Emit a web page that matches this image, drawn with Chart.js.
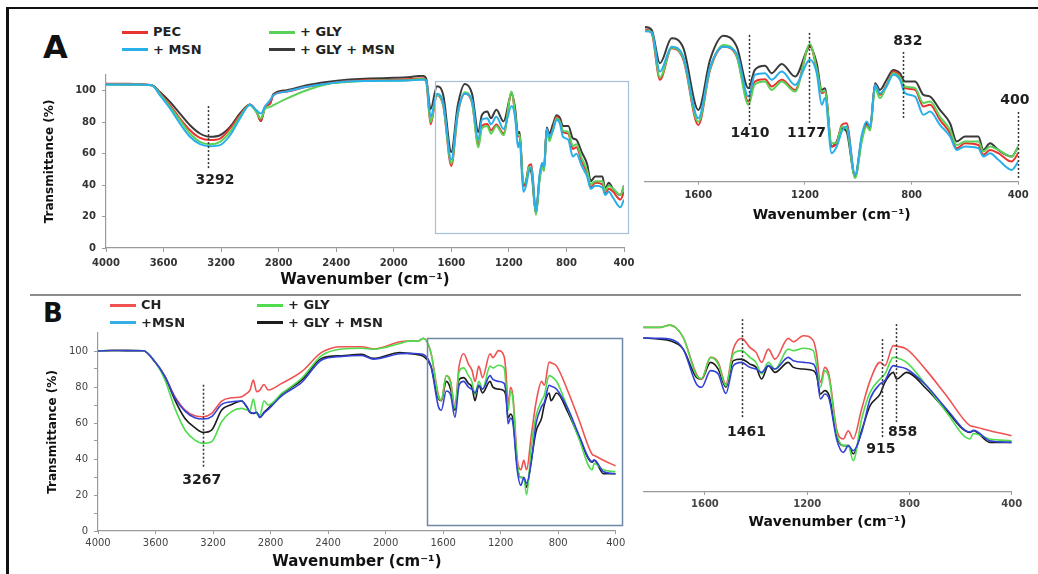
<!DOCTYPE html>
<html>
<head>
<meta charset="utf-8">
<script src="https://cdn.jsdelivr.net/npm/chart.js@4.4.1/dist/chart.umd.min.js"></script>
<style>
body { margin: 0; background: #fff; width: 1038px; height: 574px; position: relative; overflow: hidden; font-family: 'DejaVu Sans', sans-serif; }
canvas { position: absolute; }
.rule { position: absolute; }
.letter { position: absolute; font-weight: bold; color: #111; line-height: 1; }
.sw { position: absolute; height: 3px; }
.lt { position: absolute; font-size: 13px; font-weight: bold; color: #222; line-height: 16px; white-space: nowrap; }
</style>
</head>
<body>
<div class="rule" style="left:6px;top:7px;width:1032px;height:2px;background:#111"></div>
<div class="rule" style="left:6px;top:7px;width:3px;height:567px;background:#111"></div>
<div class="rule" style="left:30px;top:294px;width:991px;height:2px;background:#8c8c8c"></div>
<div class="letter" style="left:43px;top:31px;font-size:32px">A</div>
<div class="letter" style="left:43px;top:300px;font-size:26px">B</div>

<canvas id="aMain" width="600" height="240" style="left:40px;top:60px"></canvas>
<canvas id="aZoom" width="405" height="225" style="left:630px;top:5px"></canvas>
<canvas id="bMain" width="600" height="259" style="left:40px;top:315px"></canvas>
<canvas id="bZoom" width="400" height="235" style="left:630px;top:305px"></canvas>

<script>
// ---- panel A : pectin films ----
const aWave = [4000, 3900, 3800, 3682, 3625, 3555, 3486, 3416, 3347, 3277,
    3208, 3138, 3069, 3000, 2953, 2923, 2895, 2860, 2837, 2744,
    2605, 2466, 2327, 2165, 2000, 1900, 1800,
    1775, 1744, 1700, 1656, 1600, 1556, 1506, 1456, 1412, 1388,
    1350, 1325, 1287, 1237, 1181, 1156, 1137, 1125, 1100, 1081,
    1062, 1044, 1012, 987, 969, 956, 937, 919, 894, 869,
    844, 825, 787, 756, 731, 694, 656, 631, 600, 550,
    531, 506, 475, 425, 400];

const aPec = [104.5, 104.5, 104.3, 103.5, 98.5, 90.8, 82.3, 74.9, 70, 68.6,
    69.6, 76, 84.4, 91.2, 86.5, 80.8, 89.7, 91.8, 97.1, 99.5,
    102.5, 104.5, 106, 106.7, 107, 107.3, 108,
    105.9, 78.6, 97.1, 90.3, 52.2, 84.4, 98, 92.2, 65.9, 77.6,
    78.9, 74.7, 78.6, 72.7, 99, 84.4, 70.8, 71.7, 39.6, 41.5,
    52.2, 53.2, 22, 44.5, 52.2, 49.3, 75.6, 69.8, 75.6, 83.4,
    80.5, 73.7, 72.7, 63, 64, 55.2, 47.4, 38.6, 41.5, 40.5,
    34.7, 37.6, 35.7, 30.8, 35.7];

const aGly = [104, 104, 104, 103.5, 98, 89.7, 81.3, 72.8, 67.5, 66,
    67.5, 73.8, 83.4, 91, 86, 82.3, 88.5, 89.7, 90.8, 95,
    100.3, 104.1, 105.5, 106.3, 106.5, 106.7, 107.5,
    106.5, 80, 97.5, 91, 54, 85, 99, 92.5, 64, 76,
    77.6, 72.7, 77.6, 71.7, 99.5, 85, 71.7, 72, 41.5, 42,
    51.3, 50.3, 21.1, 42.5, 51.3, 49, 73.7, 67.9, 75, 82.5,
    80, 74.7, 73.7, 65, 65.9, 57.1, 49.3, 40.5, 42.5, 42.5,
    36.7, 39.6, 37.6, 33.7, 39.6];

const aMsn = [104, 104, 104, 103.5, 97.1, 88.7, 79.1, 70.7, 66, 64.7,
    65.4, 71.7, 82.3, 91, 87.5, 85.5, 90, 94, 97.1, 99.5,
    102.5, 104.5, 105.8, 106.2, 106.4, 106.5, 107,
    106.5, 83.4, 98, 92, 56.1, 86, 98, 94, 68.8, 81.5,
    82.5, 78.6, 83.4, 75.6, 90.3, 82.5, 64, 67.9, 35.7, 39.6,
    48.3, 51.3, 23, 46.4, 54.2, 51.3, 75.6, 70.8, 74.7, 81.5,
    78.6, 70.8, 68.8, 58.1, 60, 52.2, 45.4, 37.6, 39.6, 38.6,
    33.7, 35.7, 31.8, 25.9, 30.8];

const aGlyMsn = [104.1, 104, 104, 103.5, 99.2, 92.9, 85.5, 78.1, 72.8, 70.7,
    71.7, 77, 85.5, 91.2, 86.5, 80.8, 89.7, 91.8, 97.8, 100.3,
    103.5, 105.6, 107, 107.7, 108.2, 108.6, 109.5,
    107.8, 88.3, 102.9, 97.1, 61, 90.3, 104.3, 98, 73.7, 84.4,
    86.8, 82.5, 87.9, 80.5, 98, 88.3, 72.7, 73.7, 39.6, 42.5,
    50.3, 48.3, 22, 44.5, 53.2, 50.3, 76.6, 72.7, 78.6, 84.4,
    82.5, 77.6, 77.6, 69.8, 68.8, 61, 53.2, 42.5, 45.4, 45.4,
    37.6, 41.5, 37.6, 33.7, 39.6];

// ---- panel B : chitosan films ----
const bWave = [4000, 3900, 3800, 3685, 3604, 3534, 3465, 3395, 3326, 3268,
    3210, 3140, 3071, 3001, 2966, 2943, 2920, 2897, 2874, 2846,
    2816, 2723, 2584, 2445, 2306, 2167, 2085, 1900, 1841,
    1776, 1737, 1685, 1633, 1613, 1578, 1548, 1518, 1489, 1457,
    1424, 1400, 1378, 1352, 1326, 1274, 1254, 1215, 1176, 1163,
    1148, 1131, 1114, 1085, 1059, 1039, 1020, 987, 954, 915,
    896, 863, 850, 811, 733, 655, 563, 550, 485, 400];

const bCh = [100, 100.3, 100.2, 100.1, 94, 85.7, 74.6, 67.2, 64, 63.5,
    65.3, 72.2, 74, 74.6, 76.4, 78.3, 83.8, 77.4, 78.3, 81.4,
    78.3, 82, 88.5, 99.2, 102.4, 102.4, 101.1, 105.1, 105.5,
    105.5, 107, 99.1, 75.6, 72.4, 86.3, 83.1, 69.2, 91.6, 98.5,
    92.7, 89.5, 83.1, 91.6, 85.2, 98.5, 96.3, 100.2, 97, 88.4,
    70.3, 79.9, 74.5, 40.4, 34, 39.3, 34, 53.2, 71.4, 83.1,
    81, 93.8, 93.5, 91.6, 77.8, 61.7, 42.5, 42, 39.3, 36.1];

const bGly = [100, 100.3, 100.2, 100.1, 94, 83.8, 68.1, 56.1, 50.5, 48.7,
    49.6, 60.7, 66.3, 68.1, 67.2, 67, 73.3, 65.3, 64.4, 72.2,
    70, 76.4, 84.8, 97.4, 101.1, 101.5, 101, 104.2, 105.5,
    105.5, 107, 99.1, 74.6, 72.8, 86.3, 82, 68.1, 88.4, 90.6,
    86.3, 83.1, 75.6, 83.1, 78.8, 91.6, 90.6, 92.1, 90.6, 81,
    67.1, 77.8, 72.4, 38.2, 29.7, 29.7, 20.1, 46.8, 63.9, 72.4,
    75.6, 86.3, 86, 83.1, 68.1, 51.1, 34, 37.5, 34, 32.9];

const bMsn = [100, 100.3, 100.2, 100.1, 94, 85.7, 74, 66.6, 62.9, 62.2,
    63.5, 70.3, 71.8, 72.2, 69, 66, 65.5, 65.9, 63.1, 65.5,
    67.5, 75.1, 82.5, 95, 97, 97.5, 95.5, 98.5, 98.7,
    98.5, 98.1, 91.6, 69.2, 67.1, 77.8, 75.6, 63.2, 81, 83.1,
    79.9, 78.8, 76.7, 81, 78.8, 86.3, 84.2, 83.1, 82, 76.7,
    59.6, 62.8, 59.6, 34, 25.4, 29.7, 26.5, 38.2, 59.6, 69.2,
    71.4, 81, 80.5, 78.8, 68.1, 53.2, 38.5, 39.5, 32.9, 31.8];

const bGlyMsn = [100, 100.3, 100.2, 100.1, 94, 85.7, 72.7, 62.5, 57.4, 54.8,
    56.1, 67.2, 70.3, 72.2, 69, 65.9, 65.3, 65.9, 63.1, 65.9,
    68.1, 75.9, 83.8, 95.9, 97.4, 98.1, 95.9, 99.2, 98.7,
    98, 97, 91.6, 73.5, 72.4, 83.1, 78.8, 67.1, 84.2, 85.2,
    82, 79.9, 72.4, 81, 76.7, 83.1, 79.9, 78.8, 77.8, 74.6,
    62.8, 65, 61.7, 36.1, 29.7, 29.7, 24.4, 39.3, 55.3, 62.8,
    70.3, 76.7, 72.4, 76.7, 66, 52.1, 38.2, 39.3, 31.8, 31.8];

const aLabels = ['PEC', '+ GLY', '+ MSN', '+ GLY + MSN'];
const bLabels = ['CH', '+ GLY', '+MSN', '+ GLY + MSN'];

const fullTicks = [4000, 3600, 3200, 2800, 2400, 2000, 1600, 1200, 800, 400];
const zoomTicks = [1600, 1200, 800, 400];
const yTicksA = [0, 20, 40, 60, 80, 100];
const yTicksB = [0, 10, 20, 30, 40, 50, 60, 70, 80, 90, 100];

// marked peaks (wavenumber) for each panel
const aMainPeaks = [3292];
const aZoomPeaks = [1410, 1177, 832, 400];
const bMainPeaks = [3267];
const bZoomPeaks = [1461, 915, 858];

const colA = ['#e8332f', '#5bd257', '#29afe9', '#3a3a3a'];
const colB = ['#f05252', '#4fdc4f', '#3242d6', '#1c1c1c'];

Chart.defaults.font.family = "'DejaVu Sans', sans-serif";
Chart.defaults.animation = false;

function toPoints(wave, vals) {
    return wave.map((w, i) => ({ x: w, y: vals[i] }));
}

function datasets(wave, series, labels, colors, width) {
    // draw order: black last so it sits on top
    const order = [2, 1, 0, 3];
    return order.map(i => ({
        label: labels[i],
        data: toPoints(wave, series[i]),
        borderColor: colors[i],
        borderWidth: width,
        pointRadius: 0,
        cubicInterpolationMode: 'monotone',
        fill: false
    }));
}

const markPlugin = {
    id: 'marks',
    afterDatasetsDraw(chart, args, opts) {
        const { ctx } = chart;
        const x = chart.scales.x, y = chart.scales.y;
        ctx.save();
        if (opts.box) {
            const b = opts.box;
            ctx.strokeStyle = b.color;
            ctx.lineWidth = b.width;
            const x1 = x.getPixelForValue(b.w1), x2 = x.getPixelForValue(b.w2);
            const y1 = y.getPixelForValue(b.v1), y2 = y.getPixelForValue(b.v2);
            ctx.strokeRect(Math.round(x1) + 0.5, Math.round(y1) + 0.5, Math.round(x2 - x1), Math.round(y2 - y1));
        }
        (opts.marks || []).forEach(m => {
            const px = Math.round(x.getPixelForValue(m.w)) + 0.5;
            ctx.setLineDash([2, 2]);
            ctx.strokeStyle = '#333';
            ctx.lineWidth = 1.5;
            ctx.beginPath();
            ctx.moveTo(px, y.getPixelForValue(m.from));
            ctx.lineTo(px, y.getPixelForValue(m.to));
            ctx.stroke();
            ctx.setLineDash([]);
            ctx.font = "bold 14px 'DejaVu Sans'";
            ctx.fillStyle = '#1e1e1e';
            ctx.textAlign = 'center';
            ctx.textBaseline = 'middle';
            ctx.fillText(String(m.label), x.getPixelForValue(m.lw), y.getPixelForValue(m.lv));
        });
        ctx.restore();
    }
};

function makeChart(id, p) {
    const ctx = document.getElementById(id).getContext('2d');
    return new Chart(ctx, {
        type: 'line',
        data: { datasets: datasets(p.wave, p.series, p.labels, p.colors, p.lineWidth) },
        options: {
            responsive: false,
            layout: { padding: p.pad },
            plugins: {
                legend: { display: false },
                tooltip: { enabled: false },
                marks: { box: p.box, marks: p.marks }
            },
            scales: {
                x: {
                    type: 'linear',
                    reverse: true,
                    min: p.xMin,
                    max: p.xMax,
                    afterBuildTicks: s => { s.ticks = p.xTicks.map(v => ({ value: v })); },
                    afterFit: s => { s.height = p.xHeight; },
                    grid: { display: true, drawOnChartArea: false, drawTicks: true, tickLength: p.xTickLen, color: '#9a9a9a' },
                    border: { display: true, color: '#9a9a9a', width: 1.2 },
                    ticks: {
                        font: p.xTickFont, color: p.tickColor, padding: p.xTickPad, maxRotation: 0, autoSkip: false,
                        callback: v => String(v)
                    },
                    title: { display: true, text: 'Wavenumber (cm⁻¹)', font: p.xTitleFont, color: '#111', padding: { top: 0, bottom: p.xTitlePad } }
                },
                y: {
                    display: p.showY,
                    min: p.yMin,
                    max: p.yMax,
                    afterBuildTicks: s => { s.ticks = p.yTicks.map(v => ({ value: v })); },
                    afterFit: s => { s.width = p.yWidth; },
                    grid: { display: true, drawOnChartArea: false, drawTicks: true, tickLength: 4, color: '#9a9a9a' },
                    border: { display: true, color: '#9a9a9a', width: 1.2 },
                    ticks: {
                        font: p.yTickFont, color: p.tickColor, padding: 6,
                        callback: v => (v % 20 === 0 ? String(v) : '')
                    },
                    title: { display: true, text: 'Transmittance (%)', font: p.yTitleFont, color: '#111', padding: { top: p.yTitlePad, bottom: 0 } }
                }
            }
        },
        plugins: [markPlugin]
    });
}

const aSeries = [aPec, aGly, aMsn, aGlyMsn];
const bSeries = [bCh, bGly, bMsn, bGlyMsn];

makeChart('aMain', {
    wave: aWave, series: aSeries, labels: aLabels, colors: colA, lineWidth: 2,
    pad: { left: 0, top: 15, right: 16, bottom: 0 },
    xMin: 400, xMax: 4000, xTicks: fullTicks, xHeight: 52, xTickLen: 4, xTickPad: 5,
    xTickFont: { size: 10, weight: 'bold' }, xTitleFont: { size: 15, weight: 'bold' }, xTitlePad: 11,
    showY: true, yMin: 0, yMax: 110, yTicks: yTicksA, yWidth: 66,
    yTickFont: { size: 10, weight: 'bold' }, yTitleFont: { size: 12, weight: 'bold' }, yTitlePad: 3,
    tickColor: '#333',
    box: { w1: 1714, w2: 373, v1: 106, v2: 9.5, color: '#a7c0dc', width: 1.2 },
    marks: [{ w: aMainPeaks[0], from: 50.8, to: 90.8, label: aMainPeaks[0], lw: 3243, lv: 43 }]
});

makeChart('aZoom', {
    wave: aWave, series: aSeries, labels: aLabels, colors: colA, lineWidth: 2,
    pad: { left: 15, top: 17.7, right: 16.7, bottom: 0 },
    xMin: 400, xMax: 1800, xTicks: zoomTicks, xHeight: 48.3, xTickLen: 3, xTickPad: 5,
    xTickFont: { size: 10, weight: 'bold' }, xTitleFont: { size: 14, weight: 'bold' }, xTitlePad: 6.6,
    showY: false, yMin: 19, yMax: 112, yTicks: yTicksA, yWidth: 0,
    yTickFont: { size: 10 }, yTitleFont: { size: 11 }, yTitlePad: 0,
    tickColor: '#333',
    marks: [
        { w: aZoomPeaks[0], from: 52.2, to: 105.4, label: aZoomPeaks[0], lw: 1406, lv: 47 },
        { w: 1184, from: 53.4, to: 106.8, label: aZoomPeaks[1], lw: 1194, lv: 47 },
        { w: aZoomPeaks[2], from: 56.3, to: 95, label: aZoomPeaks[2], lw: 814, lv: 101 },
        { w: aZoomPeaks[3], from: 21.2, to: 61, label: aZoomPeaks[3], lw: 413, lv: 66.8 }
    ]
});

makeChart('bMain', {
    wave: bWave, series: bSeries, labels: bLabels, colors: colB, lineWidth: 1.6,
    pad: { left: 0, top: 18, right: 24.3, bottom: 0 },
    xMin: 400, xMax: 4000, xTicks: fullTicks, xHeight: 43, xTickLen: 3, xTickPad: 3,
    xTickFont: { size: 10 }, xTitleFont: { size: 15, weight: 'bold' }, xTitlePad: 3,
    showY: true, yMin: 0, yMax: 110, yTicks: yTicksB, yWidth: 58,
    yTickFont: { size: 10 }, yTitleFont: { size: 12, weight: 'bold' }, yTitlePad: 5.8,
    tickColor: '#444',
    box: { w1: 1710, w2: 356, v1: 107.4, v2: 3.3, color: '#6f88a8', width: 1.5 },
    marks: [{ w: bMainPeaks[0], from: 35.7, to: 82.2, label: bMainPeaks[0], lw: 3279, lv: 28.3 }]
});

makeChart('bZoom', {
    wave: bWave, series: bSeries, labels: bLabels, colors: colB, lineWidth: 1.6,
    pad: { left: 13.3, top: 15.4, right: 18.3, bottom: 0 },
    xMin: 400, xMax: 1841, xTicks: zoomTicks, xHeight: 48, xTickLen: 3, xTickPad: 3,
    xTickFont: { size: 10, weight: 'bold' }, xTitleFont: { size: 14, weight: 'bold' }, xTitlePad: 9.6,
    showY: false, yMin: 0, yMax: 110, yTicks: yTicksA, yWidth: 0,
    yTickFont: { size: 10 }, yTitleFont: { size: 11 }, yTitlePad: 0,
    tickColor: '#444',
    marks: [
        { w: 1456, from: 48, to: 110.8, label: bZoomPeaks[0], lw: 1437, lv: 38.4 },
        { w: 909, from: 35.2, to: 99.3, label: bZoomPeaks[1], lw: 912, lv: 27.5 },
        { w: 853, from: 44.8, to: 107.6, label: bZoomPeaks[2], lw: 827, lv: 38.4 }
    ]
});

// legends: two columns, two rows (first label and +GLY on row 1, +MSN and +GLY+MSN on row 2)
function legend(labels, colors, x0, y0) {
    labels.forEach((lab, i) => {
        const col = i % 2;
        const row = i < 2 ? 0 : 1;
        const left = x0 + col * 147;
        const top = y0 + row * 17.5;
        const sw = document.createElement('div');
        sw.className = 'sw';
        sw.style.cssText = `left:${left}px;top:${top - 1.5}px;width:26px;background:${colors[i]}`;
        document.body.appendChild(sw);
        const t = document.createElement('div');
        t.className = 'lt';
        t.style.left = (left + 31) + 'px';
        t.style.top = (top - 8) + 'px';
        t.textContent = lab;
        document.body.appendChild(t);
    });
}
legend(aLabels, colA, 122, 32);
legend(bLabels, [colB[0], colB[1], '#35aee8', colB[3]], 110, 305);
</script>
</body>
</html>
